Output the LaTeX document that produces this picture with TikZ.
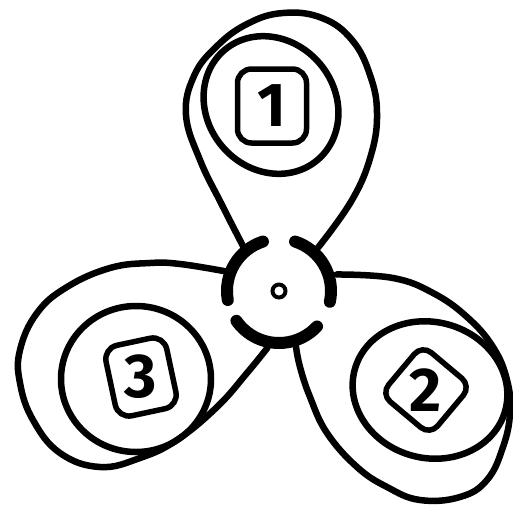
\documentclass[tikz,border=0pt]{standalone}
\usepackage{graphicx}
\usepackage{fontspec}
\usepackage{tikz}
\usetikzlibrary{positioning, calc}

\newfontfamily\digitfont{Fira Sans}

\begin{document}
\begin{tikzpicture}[
    x=1pt, y=-1pt,
    blade/.style={line width=6.5pt, line cap=round, line join=round},
    hubarc/.style={line width=12pt, line cap=round},
    numbox/.style={rectangle, rounded corners=14pt, draw=black, line width=5.5pt, minimum width=66pt, minimum height=72pt, inner sep=0pt, font=\fontsize{62}{62}\selectfont\digitfont\bfseries}
]
\useasboundingbox (0,0) rectangle (513,506);

% hub
\coordinate (hub) at (279,291);
\draw[line width=4pt] (hub) circle[radius=6.5];
\foreach \a/\b in {252/170, 12/-72, 145/43}
    \draw[hubarc] (hub) ++(\a:52) arc[start angle=\a, end angle=\b, radius=52];

% where the blades leave the hub
\coordinate (j1l) at ($(hub)+(231:56)$);
\coordinate (j1r) at ($(hub)+(312:58)$);
\coordinate (j2u) at ($(hub)+(344:60)$);
\coordinate (j2d) at ($(hub)+(73:58)$);
\coordinate (j3u) at ($(hub)+(200:58)$);
\coordinate (j3d) at ($(hub)+(101.5:58)$);

% blade 1
\draw[blade] plot[smooth, tension=0.7] coordinates {(j1l) (222,205) (200,160) (186,115) (194,76) (216,47) (247,24) (283,13) (322,18) (352,40) (370,75) (377,113) (371,155) (352,200) (j1r)};
\node[numbox, minimum width=69pt, minimum height=74pt] (box1) at (272,106) {1};
\draw[blade, rotate around={40:(271,105)}] (271,105) ellipse[x radius=64, y radius=72];

% blade 2
\draw[blade] plot[smooth, tension=0.7] coordinates {(j2u) (393,278) (433,293) (467,317) (493,347) (507,380) (510,413) (503,447) (487,480) (460,497) (420,500) (387,487) (357,467) (327,433) (310,397) (300,367) (j2d)};
\node[numbox, minimum width=64pt, minimum height=64pt, rounded corners=12pt, rotate=-40] (box2) at (426,390) {\rotatebox{40}{2}};
\draw[blade, rotate around={-15:(430,390)}] (430,390) ellipse[x radius=78, y radius=68];

% blade 3
\draw[blade] plot[smooth, tension=0.7] coordinates {(j3u) (180,264) (150,263) (110,268) (67,287) (37,313) (20,350) (20,383) (33,420) (60,453) (100,467) (140,458) (177,440) (217,407) (247,373) (j3d)};
\node[numbox, minimum width=62pt, minimum height=72pt, rotate=12] (box3) at (141,377) {\rotatebox{-12}{3}};
\draw[blade] (136,379) ellipse[x radius=75, y radius=73];
\end{tikzpicture}
\end{document}
